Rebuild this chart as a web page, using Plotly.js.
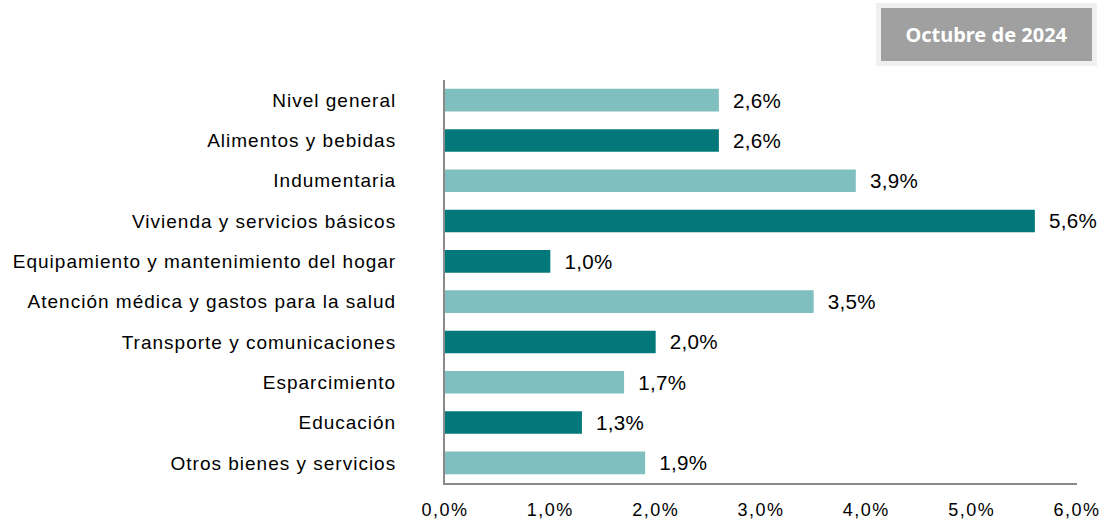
<!DOCTYPE html>
<html>
<head>
<meta charset="utf-8">
<script src="https://cdn.plot.ly/plotly-3.0.1.min.js"></script>
<style>
html,body{margin:0;padding:0;background:#fff;}
#chart{width:1110px;height:525px;}
#chart g.ytick text{letter-spacing:1px;}
#chart g.xtick text{letter-spacing:1.5px;}
#chart text.bartext{letter-spacing:0.3px;}
</style>
</head>
<body>
<div id="chart"></div>
<script>
const categories = [
  "Nivel general",
  "Alimentos y bebidas",
  "Indumentaria",
  "Vivienda y servicios básicos",
  "Equipamiento y mantenimiento del hogar",
  "Atención médica y gastos para la salud",
  "Transporte y comunicaciones",
  "Esparcimiento",
  "Educación",
  "Otros bienes y servicios"
];
const values = [2.6, 2.6, 3.9, 5.6, 1.0, 3.5, 2.0, 1.7, 1.3, 1.9];
const shade = ["light","dark","light","dark","dark","light","dark","light","dark","light"];
const xTicks = [0, 1, 2, 3, 4, 5, 6];
const xTickText = ["0,0%", "1,0%", "2,0%", "3,0%", "4,0%", "5,0%", "6,0%"];
const periodLabel = "Octubre de 2024";

const palette = {light: "#80bfbf", dark: "#03787a"};

const trace = {
  type: "bar",
  orientation: "h",
  y: categories,
  x: values,
  marker: {color: shade.map(s => palette[s])},
  texttemplate: "  %{x:.1f}%",
  textposition: "outside",
  cliponaxis: false,
  textfont: {family: "Liberation Sans, Arial, sans-serif", size: 21, color: "#000"},
  hoverinfo: "none"
};

const layout = {
  width: 1110,
  height: 525,
  margin: {l: 445, r: 33, t: 80, b: 42},
  paper_bgcolor: "#fff",
  plot_bgcolor: "#fff",
  separators: ",.",
  bargap: 0.44,
  showlegend: false,
  font: {family: "Liberation Sans, Arial, sans-serif", size: 17, color: "#000"},
  xaxis: {
    range: [0, 6],
    tickvals: xTicks,
    ticktext: xTickText,
    showgrid: false,
    zeroline: false,
    showline: true,
    linecolor: "#8a8a8a",
    linewidth: 2,
    ticks: "",
    ticklabelstandoff: 9,
    tickfont: {size: 18},
    fixedrange: true
  },
  yaxis: {
    autorange: "reversed",
    showgrid: false,
    zeroline: false,
    showline: true,
    linecolor: "#8a8a8a",
    linewidth: 2,
    ticks: "",
    ticklabelstandoff: 43,
    tickfont: {size: 19},
    fixedrange: true
  },
  annotations: [{
    xref: "paper", yref: "paper",
    x: (986 - 445) / 632, y: (483 - 34.5) / 403,
    xanchor: "center", yanchor: "middle",
    text: "<b>" + periodLabel + "</b>",
    showarrow: false,
    width: 211, height: 53,
    bgcolor: "#a0a0a0",
    bordercolor: "#f0f0f0",
    borderwidth: 5,
    borderpad: 0,
    font: {family: "Noto Sans, Open Sans, sans-serif", size: 20, color: "#fff"}
  }]
};

Plotly.newPlot("chart", [trace], layout, {displayModeBar: false, staticPlot: true});
</script>
</body>
</html>
